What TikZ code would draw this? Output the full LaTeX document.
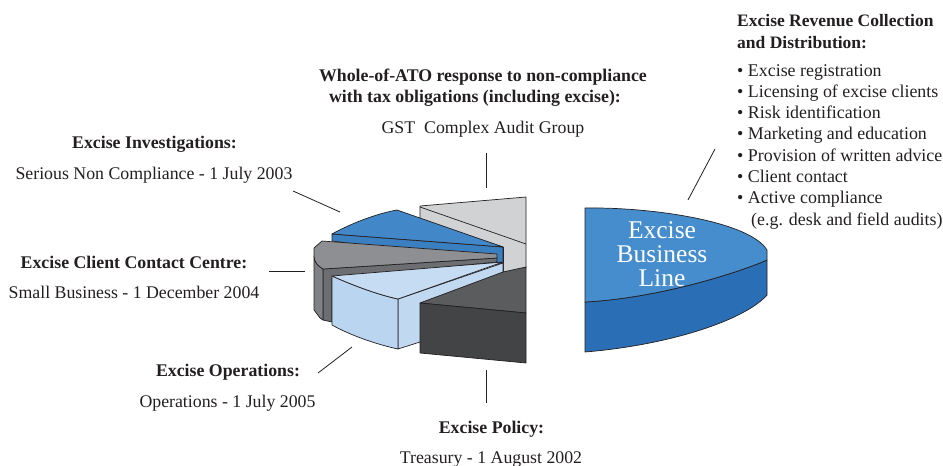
\documentclass[tikz,border=0pt]{standalone}
\usepackage{fontspec}
\setmainfont{Liberation Serif}
\definecolor{lgrey}{HTML}{D1D2D4}
\definecolor{btop}{HTML}{4288C8}
\definecolor{bside}{HTML}{3A7FC0}
\definecolor{mgtop}{HTML}{8E8F92}
\definecolor{mgout}{HTML}{808184}
\definecolor{mgside}{HTML}{6D6E71}
\definecolor{lbtop}{HTML}{C5DCF2}
\definecolor{lbfront}{HTML}{BAD5EF}
\definecolor{lbside}{HTML}{C0D9F1}
\definecolor{dgtop}{HTML}{5B5C5E}
\definecolor{dgfront}{HTML}{434446}
\definecolor{ebltop}{HTML}{468DCD}
\definecolor{eblside}{HTML}{2A6FB6}
\definecolor{ink}{HTML}{231F20}
\begin{document}
\begin{tikzpicture}[x=1pt,y=-1pt, line join=round,
  edge/.style={draw=ink, line width=0.7pt},
  lbl/.style={anchor=base, inner sep=0pt, text=ink, font=\fontsize{17.8}{20}\selectfont},
  head/.style={anchor=base, inner sep=0pt, text=ink, font=\fontsize{17.8}{20}\selectfont\bfseries},
  rhead/.style={anchor=base west, inner sep=0pt, text=ink, font=\fontsize{17.5}{20}\selectfont\bfseries},
  listitem/.style={anchor=base west, inner sep=0pt, text=ink, font=\fontsize{17.9}{20}\selectfont},
  ebltext/.style={anchor=base, inner sep=0pt, text=white, font=\fontsize{25.5}{24}\selectfont},
  lead/.style={draw=ink, line width=0.8pt}]
\useasboundingbox (0,0) rectangle (943,466);

% ---- light grey (back) slice
\filldraw[edge, fill=lgrey] (420,206) -- (526,197) -- (526,268) -- (503,274) -- (503,247) -- (420,220) -- cycle;
\draw[edge] (420,207) -- (526,244);
\draw[edge] (503,247) -- (503,274);

% ---- blue slice
\filldraw[edge, fill=bside] (332,234) -- (503,247) -- (503,273) -- (495,262) -- (332,241) -- cycle;
\filldraw[edge, fill=btop] (332,234) .. controls (350,224) and (375,214) .. (397,210) -- (503,247) -- cycle;

% ---- mid grey slice
\filldraw[edge, fill=mgside] (323,269) -- (497,258) -- (497,262) -- (332,278) -- (332,322) -- (323,320) -- cycle;
\filldraw[edge, fill=mgout] (314,256) .. controls (314,262) and (318,266) .. (323,269) -- (323,320) -- (320,318) -- (314,310) -- cycle;
\filldraw[edge, fill=mgtop] (322,241) -- (497,254) -- (497,258) -- (323,269) .. controls (318,266) and (314,262) .. (314,256) -- (314,248) -- cycle;

% ---- light blue slice
\filldraw[edge, fill=lbside] (398,299) -- (503,263) -- (503,300) -- (420,342) -- (398,349) -- cycle;
\filldraw[edge, fill=lbfront] (332,276) .. controls (350,284) and (375,294) .. (398,299) -- (398,349) .. controls (375,344) and (350,335) .. (332,325) -- cycle;
\filldraw[edge, fill=lbtop] (332,276) -- (503,262) -- (398,299) .. controls (375,294) and (350,284) .. (332,276) -- cycle;

% ---- dark grey slice
\filldraw[edge, fill=dgtop] (420,303) -- (503,272) -- (526,267) -- (526,313) -- cycle;
\filldraw[edge, fill=dgfront] (420,303) -- (526,313) -- (526,363) -- (420,353) -- cycle;

% ---- Excise Business Line slice
\filldraw[edge, fill=eblside] (585,302) .. controls (660,298) and (740,272) .. (767,260) -- (767,295) .. controls (745,320) and (670,345) .. (585,352) -- cycle;
\filldraw[edge, fill=ebltop] (585,208) .. controls (655,207) and (750,222) .. (767,250) -- (767,260) .. controls (740,272) and (660,298) .. (585,302) -- cycle;
\node[ebltext] (ebl1) at (662,238) {Excise};
\node[ebltext] (ebl2) at (662,262) {Business};
\node[ebltext] (ebl3) at (662,286) {Line};

% ---- labels
\node[head] (ato1) at (483,81) {Whole-of-ATO response to non-compliance};
\node[head] (ato2) at (475,102) {with tax obligations (including excise):};
\node[lbl] (ato3) at (483,133) {GST\ \ Complex Audit Group};

\node[head] (inv1) at (154.5,148) {Excise Investigations:};
\node[lbl] (inv2) at (154,179) {Serious Non Compliance - 1 July 2003};

\node[head] (ccc1) at (134,268) {Excise Client Contact Centre:};
\node[lbl] (ccc2) at (134,298) {Small Business - 1 December 2004};

\node[head] (ops1) at (228,376) {Excise Operations:};
\node[lbl] (ops2) at (227.5,407) {Operations - 1 July 2005};

\node[head] (pol1) at (491.5,433) {Excise Policy:};
\node[lbl] (pol2) at (491,463) {Treasury - 1 August 2002};

\node[rhead] (rev1) at (737,26.7) {Excise Revenue Collection};
\node[rhead] (rev2) at (737,48.3) {and Distribution:};
\node[listitem] (li1) at (737,76) {\textbullet\ Excise registration};
\node[listitem] (li2) at (737,97.3) {\textbullet\ Licensing of excise clients};
\node[listitem] (li3) at (737,118.6) {\textbullet\ Risk identification};
\node[listitem] (li4) at (737,139.9) {\textbullet\ Marketing and education};
\node[listitem] (li5) at (737,161.2) {\textbullet\ Provision of written advice};
\node[listitem] (li6) at (737,182.5) {\textbullet\ Client contact};
\node[listitem] (li7) at (737,203.8) {\textbullet\ Active compliance};
\node[listitem] (li8) at (751,225.1) {(e.g. desk and field audits)};

% ---- leader lines
\coordinate (invA) at (293,191); \coordinate (invB) at (340,212);
\coordinate (cccA) at (269,271); \coordinate (cccB) at (305,271);
\coordinate (opsA) at (318,373); \coordinate (opsB) at (352,347);
\coordinate (polA) at (486,370); \coordinate (polB) at (486,403);
\coordinate (atoA) at (486,153); \coordinate (atoB) at (486,188);
\coordinate (revA) at (715,149); \coordinate (revB) at (688,200);
\draw[lead] (invA) -- (invB);
\draw[lead] (cccA) -- (cccB);
\draw[lead] (opsA) -- (opsB);
\draw[lead] (polA) -- (polB);
\draw[lead] (atoA) -- (atoB);
\draw[lead] (revA) -- (revB);
\end{tikzpicture}
\end{document}
